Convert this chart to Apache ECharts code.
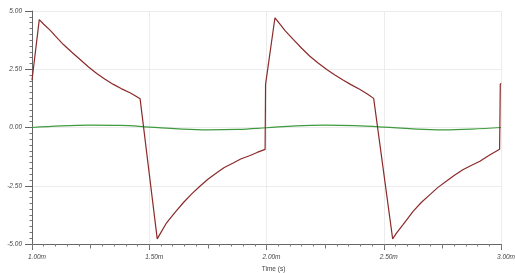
<!DOCTYPE html>
<html>
<head>
<meta charset="utf-8">
<script src="https://cdn.jsdelivr.net/npm/echarts@6/dist/echarts.min.js"></script>
<style>
  html, body { margin: 0; padding: 0; background: #fff; }
  #chart { width: 515px; height: 273px; }
</style>
</head>
<body>
<div id="chart"></div>
<script>
// time in ms, voltage in V
var redTime = [1.000, 1.031, 1.050, 1.077, 1.100, 1.134, 1.170, 1.205, 1.240, 1.276, 1.310, 1.347, 1.380, 1.418, 1.440, 1.461,
               1.534, 1.550, 1.574, 1.610, 1.645, 1.680, 1.716, 1.750, 1.788, 1.820, 1.858, 1.890, 1.930, 1.960, 1.994,
               1.996, 2.036, 2.060, 2.080, 2.114, 2.150, 2.185, 2.220, 2.257, 2.290, 2.328, 2.360, 2.399, 2.430, 2.457,
               2.538, 2.555, 2.583, 2.605, 2.626, 2.660, 2.697, 2.730, 2.768, 2.800, 2.839, 2.875, 2.910, 2.950, 2.994,
               2.997, 3.000];
var redVolt = [2.03, 4.63, 4.43, 4.18, 3.92, 3.56, 3.23, 2.92, 2.61, 2.32, 2.08, 1.85, 1.67, 1.49, 1.36, 1.23,
               -4.78, -4.50, -4.09, -3.64, -3.23, -2.86, -2.52, -2.22, -1.94, -1.72, -1.52, -1.35, -1.20, -1.07, -0.94,
               1.85, 4.71, 4.40, 4.15, 3.78, 3.40, 3.06, 2.77, 2.49, 2.26, 2.03, 1.84, 1.63, 1.44, 1.25,
               -4.78, -4.52, -4.16, -3.87, -3.59, -3.22, -2.88, -2.58, -2.30, -2.06, -1.80, -1.62, -1.45, -1.19, -0.93,
               1.85, 1.90];

var greenTime = [1.000, 1.125, 1.250, 1.375, 1.500, 1.625, 1.750, 1.875, 2.000,
                 2.125, 2.250, 2.375, 2.500, 2.625, 2.750, 2.875, 3.000];
var greenVolt = [0.00, 0.07, 0.10, 0.09, 0.02, -0.06, -0.10, -0.08, -0.01,
                 0.07, 0.10, 0.08, 0.02, -0.06, -0.10, -0.07, 0.00];

function pairs(xs, ys) {
  var out = [];
  for (var i = 0; i < xs.length; i++) out.push([xs[i], ys[i]]);
  return out;
}

var labelStyle = { color: '#444', fontSize: 6.5, fontStyle: 'italic', fontFamily: 'Liberation Sans' };

var chart = echarts.init(document.getElementById('chart'));
chart.setOption({
  animation: false,
  grid: { left: 32, right: 14, top: 11, bottom: 29, outerBoundsMode: 'none', containLabel: false },
  xAxis: [
    {
      type: 'value', min: 1, max: 3, interval: 0.5,
      name: 'Time (s)', nameLocation: 'middle', nameGap: 18,
      nameTextStyle: { color: '#444', fontSize: 6.5, fontFamily: 'Liberation Sans', padding: [0, 0, 0, 14] },
      axisLine: { show: true, onZero: false, lineStyle: { color: '#666', width: 1 } },
      axisTick: { show: true, inside: false, length: 6, lineStyle: { color: '#666', width: 1 } },
      minorTick: { show: true, splitNumber: 10, length: 2.5, lineStyle: { color: '#777', width: 1 } },
      axisLabel: Object.assign({ margin: 10, padding: [0, 0, 0, 10],
        formatter: function (v) { return v.toFixed(2) + 'm'; } }, labelStyle),
      splitLine: { show: true, lineStyle: { color: '#ececec', width: 1 } }
    },
    {
      type: 'value', min: 1, max: 3, interval: 0.25, position: 'bottom',
      axisLine: { show: false, onZero: false },
      axisTick: { show: true, inside: false, length: 4.5, lineStyle: { color: '#777', width: 1 } },
      axisLabel: { show: false },
      splitLine: { show: false }
    }
  ],
  yAxis: {
    type: 'value', min: -5, max: 5, interval: 2.5,
    name: 'Voltage (V)', nameLocation: 'middle', nameGap: 21,
    nameTextStyle: { color: '#444', fontSize: 6.5, fontFamily: 'Liberation Sans', fontStyle: 'italic' },
    axisLine: { show: true, onZero: false, lineStyle: { color: '#666', width: 1 } },
    axisTick: { show: true, inside: false, length: 7, lineStyle: { color: '#666', width: 1 } },
    minorTick: { show: true, splitNumber: 10, length: 2.5, lineStyle: { color: '#777', width: 1 } },
    axisLabel: Object.assign({ margin: 10,
      formatter: function (v) { return v.toFixed(2); } }, labelStyle),
    splitLine: { show: true, lineStyle: { color: '#ececec', width: 1 } }
  },
  series: [
    {
      type: 'line', name: 'green', data: pairs(greenTime, greenVolt),
      smooth: 0.4, showSymbol: false,
      lineStyle: { color: '#3f9a3f', width: 1.2 }
    },
    {
      type: 'line', name: 'red', data: pairs(redTime, redVolt),
      showSymbol: false,
      lineStyle: { color: '#8b2a2a', width: 1.2 }
    }
  ]
});
</script>
</body>
</html>
